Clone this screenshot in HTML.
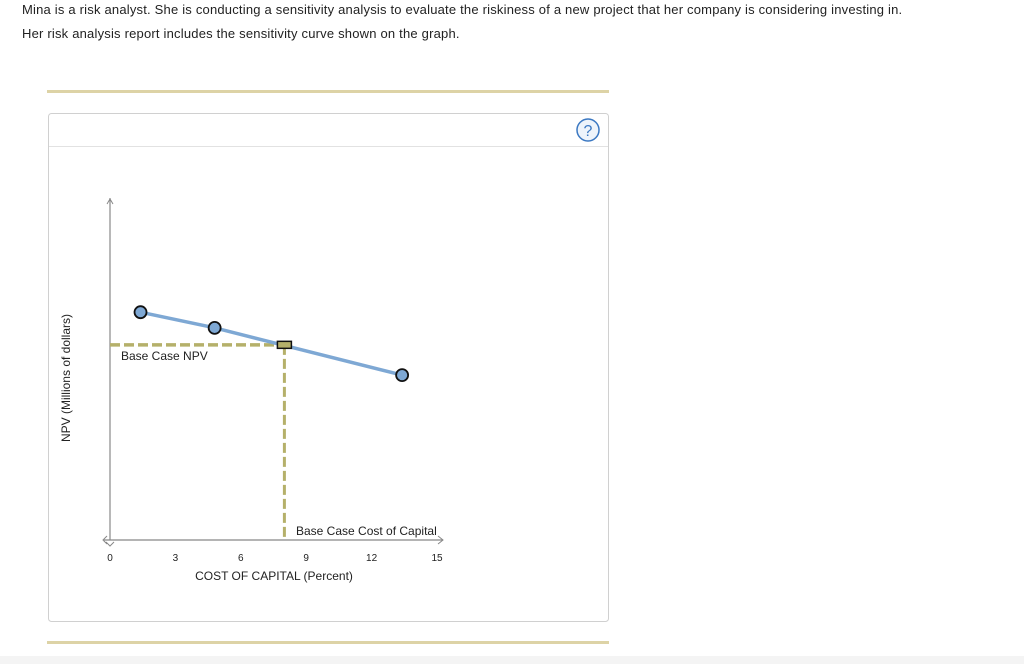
<!DOCTYPE html>
<html><head><meta charset="utf-8"><style>
body{margin:0;width:1024px;height:664px;background:#fff;font-family:"Liberation Sans",sans-serif;overflow:hidden;position:relative}
.t{position:absolute;left:22px;font-size:13px;color:#222;letter-spacing:0.2px}
</style></head><body>
<div class="t" style="top:2px">Mina is a risk analyst. She is conducting a sensitivity analysis to evaluate the riskiness of a new project that her company is considering investing in.</div>
<div class="t" style="top:26px">Her risk analysis report includes the sensitivity curve shown on the graph.</div>
<div style="position:absolute;left:0;top:656px;width:1024px;height:8px;background:#f4f4f4"></div>
<svg width="1024" height="664" style="position:absolute;left:0;top:0">
<rect x="47" y="90" width="562" height="3" fill="#ddd3a6"/>
<rect x="47" y="641" width="562" height="3" fill="#ddd3a6"/>
<rect x="48.5" y="113.5" width="560" height="508" rx="3" fill="#fff" stroke="#d0d0d0"/>
<line x1="49" y1="146.5" x2="608" y2="146.5" stroke="#e2e2e2"/>
<g><circle cx="588" cy="130" r="11" fill="#eef4fb" stroke="#3b78c2" stroke-width="1.5"/><text x="588" y="136" text-anchor="middle" font-size="16" fill="#3b78c2">?</text></g>
<g id="plot"></g>
<text x="70" y="378" transform="rotate(-90 70 378)" text-anchor="middle" font-size="12" fill="#222">NPV (Millions of dollars)</text>
<text x="274" y="580" text-anchor="middle" font-size="12" fill="#222">COST OF CAPITAL (Percent)</text>
</svg>
<script>
const xTicks=[0,3,6,9,12,15];
const costs=[1.4,4.8,13.4];
const npvs=[67,62.4,48.5];
const baseCost=8.0;
const baseNpv=57.4;
const X=v=>110+v*21.8, Y=v=>540-v*3.4;
const g=document.getElementById('plot');
const NS='http://www.w3.org/2000/svg';
function mk(t,a){const e=document.createElementNS(NS,t);for(const k in a)e.setAttribute(k,a[k]);g.appendChild(e);return e;}
let e;
e=mk('line',{x1:X(0),y1:Y(0),x2:X(0),y2:198,stroke:'#888','stroke-width':1.2});


e=mk('path',{d:`M${X(0)-3} 204 L${X(0)} 199 L${X(0)+3} 204`,fill:'none',stroke:'#888'});


e=mk('line',{x1:104,y1:Y(0),x2:443,y2:Y(0),stroke:'#888','stroke-width':1.2});


e=mk('path',{d:`M438 ${Y(0)-4} L443 ${Y(0)} L438 ${Y(0)+4} M107 ${Y(0)-4} L103 ${Y(0)} L107 ${Y(0)+4} M${X(0)-4} ${Y(0)+2} L${X(0)} ${Y(0)+6} L${X(0)+4} ${Y(0)+2}`,fill:'none',stroke:'#888'});


xTicks.forEach(t=>{e=mk('text',{x:X(t),y:561,'text-anchor':'middle','font-size':10,fill:'#222'});e.textContent=t;

});
e=mk('line',{x1:X(0),y1:Y(baseNpv),x2:X(baseCost),y2:Y(baseNpv),stroke:'#b5b06a','stroke-width':3.5,'stroke-dasharray':'10 4'});


e=mk('line',{x1:X(baseCost),y1:Y(baseNpv),x2:X(baseCost),y2:Y(0),stroke:'#b5b06a','stroke-width':3,'stroke-dasharray':'10 4'});


const pts=[[costs[0],npvs[0]],[costs[1],npvs[1]],[costs[2],npvs[2]]];
e=mk('polyline',{points:pts.map(p=>X(p[0])+','+Y(p[1])).join(' '),fill:'none',stroke:'#7ea8d4','stroke-width':3.5});


e=mk('rect',{x:X(baseCost)-7,y:Y(baseNpv)-3.5,width:14,height:7,fill:'#b5b06a',stroke:'#111','stroke-width':1.5});


costs.forEach((c,i)=>{e=mk('circle',{cx:X(c),cy:Y(npvs[i]),r:6,fill:'#7ea8d4',stroke:'#111','stroke-width':1.8});

});
e=mk('text',{x:121,y:360,'font-size':12,fill:'#222'});e.textContent='Base Case NPV';


e=mk('text',{x:296,y:535,'font-size':12,fill:'#222'});e.textContent='Base Case Cost of Capital';


</script>
</body></html>
